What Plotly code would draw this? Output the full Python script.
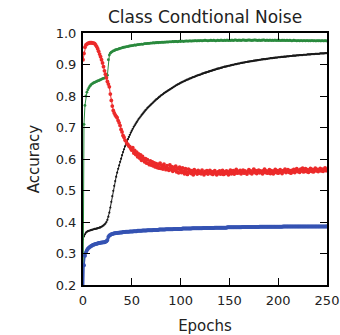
import plotly.graph_objects as go

epochs = list(range(0, 251))

# accuracy on the clean training subset
green_acc = [
    0.10, 0.71, 0.77, 0.80, 0.812, 0.82, 0.826, 0.831, 0.835, 0.838,
    0.840, 0.842, 0.843, 0.845, 0.846, 0.848, 0.849, 0.850, 0.852, 0.853,
    0.855, 0.856, 0.857, 0.859, 0.861, 0.866, 0.915, 0.930, 0.936, 0.939,
    0.941, 0.943, 0.944, 0.946, 0.947, 0.948, 0.949, 0.950, 0.951, 0.952,
    0.953, 0.954, 0.955, 0.955, 0.956, 0.957, 0.957, 0.958, 0.959, 0.959,
    0.960, 0.960, 0.961, 0.962, 0.961, 0.962, 0.963, 0.963, 0.964, 0.964,
    0.965, 0.964, 0.965, 0.966, 0.966, 0.966, 0.967, 0.967, 0.967, 0.968,
    0.968, 0.968, 0.969, 0.968, 0.969, 0.969, 0.970, 0.969, 0.970, 0.970,
    0.970, 0.971, 0.970, 0.971, 0.971, 0.971, 0.972, 0.971, 0.972, 0.972,
    0.972, 0.972, 0.973, 0.972, 0.973, 0.973, 0.973, 0.972, 0.973, 0.974,
    0.973, 0.974, 0.974, 0.973, 0.974, 0.974, 0.975, 0.974, 0.974, 0.975,
    0.975, 0.974, 0.975, 0.975, 0.975, 0.976, 0.975, 0.975, 0.976, 0.975,
    0.976, 0.976, 0.975, 0.976, 0.976, 0.977, 0.976, 0.976, 0.975, 0.976,
    0.976, 0.977, 0.976, 0.976, 0.977, 0.976, 0.975, 0.976, 0.977, 0.976,
    0.976, 0.977, 0.977, 0.976, 0.976, 0.977, 0.976, 0.977, 0.977, 0.976,
    0.977, 0.976, 0.977, 0.977, 0.976, 0.977, 0.978, 0.977, 0.976, 0.977,
    0.977, 0.977, 0.976, 0.977, 0.978, 0.977, 0.977, 0.976, 0.977, 0.977,
    0.978, 0.977, 0.977, 0.976, 0.977, 0.977, 0.978, 0.977, 0.977, 0.976,
    0.977, 0.977, 0.976, 0.977, 0.977, 0.978, 0.977, 0.976, 0.977, 0.977,
    0.976, 0.977, 0.977, 0.976, 0.977, 0.976, 0.977, 0.977, 0.976, 0.977,
    0.976, 0.977, 0.976, 0.976, 0.977, 0.976, 0.977, 0.976, 0.976, 0.977,
    0.976, 0.976, 0.977, 0.976, 0.975, 0.976, 0.977, 0.976, 0.976, 0.975,
    0.976, 0.976, 0.975, 0.976, 0.976, 0.975, 0.976, 0.976, 0.975, 0.976,
    0.976, 0.975, 0.976, 0.975, 0.976, 0.976, 0.975, 0.976, 0.975, 0.975,
    0.976, 0.975, 0.976, 0.975, 0.975, 0.976, 0.975, 0.975, 0.976, 0.975,
    0.975,
]

# accuracy on the noisy-labelled subset
red_acc = [
    0.915, 0.935, 0.955, 0.962, 0.965, 0.967, 0.968, 0.969, 0.969, 0.969,
    0.968, 0.968, 0.966, 0.962, 0.957, 0.950, 0.942, 0.933, 0.925, 0.915,
    0.905, 0.893, 0.880, 0.869, 0.858, 0.846, 0.838, 0.829, 0.806, 0.786,
    0.768, 0.754, 0.746, 0.740, 0.735, 0.731, 0.722, 0.715, 0.706, 0.694,
    0.686, 0.675, 0.669, 0.660, 0.657, 0.649, 0.646, 0.641, 0.639, 0.633,
    0.628, 0.636, 0.619, 0.627, 0.614, 0.622, 0.607, 0.616, 0.603, 0.613,
    0.596, 0.608, 0.601, 0.591, 0.601, 0.587, 0.598, 0.586, 0.582, 0.594,
    0.581, 0.591, 0.578, 0.588, 0.575, 0.585, 0.573, 0.583, 0.571, 0.587,
    0.570, 0.580, 0.568, 0.584, 0.574, 0.566, 0.579, 0.570, 0.564, 0.581,
    0.567, 0.576, 0.561, 0.573, 0.565, 0.577, 0.559, 0.570, 0.556, 0.574,
    0.565, 0.557, 0.572, 0.561, 0.553, 0.569, 0.559, 0.551, 0.568, 0.557,
    0.564, 0.554, 0.562, 0.550, 0.566, 0.556, 0.561, 0.552, 0.564, 0.555,
    0.560, 0.553, 0.565, 0.556, 0.550, 0.561, 0.555, 0.563, 0.552, 0.558,
    0.564, 0.554, 0.560, 0.551, 0.557, 0.563, 0.555, 0.550, 0.559, 0.554,
    0.562, 0.552, 0.557, 0.564, 0.551, 0.559, 0.554, 0.562, 0.555, 0.550,
    0.560, 0.565, 0.553, 0.558, 0.563, 0.552, 0.560, 0.567, 0.555, 0.561,
    0.556, 0.564, 0.553, 0.559, 0.565, 0.555, 0.562, 0.557, 0.552, 0.561,
    0.566, 0.556, 0.562, 0.553, 0.559, 0.568, 0.557, 0.563, 0.554, 0.561,
    0.565, 0.556, 0.562, 0.558, 0.553, 0.563, 0.568, 0.557, 0.562, 0.555,
    0.561, 0.566, 0.554, 0.563, 0.559, 0.553, 0.562, 0.567, 0.557, 0.563,
    0.555, 0.562, 0.566, 0.558, 0.554, 0.563, 0.560, 0.568, 0.557, 0.562,
    0.566, 0.558, 0.563, 0.555, 0.564, 0.559, 0.567, 0.557, 0.563, 0.569,
    0.560, 0.565, 0.558, 0.568, 0.562, 0.571, 0.559, 0.564, 0.569, 0.560,
    0.566, 0.558, 0.564, 0.570, 0.561, 0.567, 0.559, 0.565, 0.571, 0.562,
    0.567, 0.560, 0.566, 0.570, 0.562, 0.568, 0.561, 0.567, 0.572, 0.563,
    0.567,
]

# overall training accuracy
black_acc = [
    0.345, 0.355, 0.361, 0.366, 0.369, 0.371, 0.372, 0.373, 0.374, 0.375,
    0.376, 0.377, 0.378, 0.378, 0.379, 0.380, 0.381, 0.382, 0.383, 0.385,
    0.387, 0.389, 0.392, 0.395, 0.400, 0.407, 0.417, 0.430, 0.446, 0.464,
    0.482, 0.499, 0.515, 0.530, 0.544, 0.557, 0.569, 0.580, 0.591, 0.601,
    0.612, 0.622, 0.631, 0.640, 0.648, 0.656, 0.663, 0.670, 0.677, 0.684,
    0.690, 0.696, 0.702, 0.707, 0.712, 0.717, 0.722, 0.727, 0.731, 0.735,
    0.739, 0.743, 0.747, 0.751, 0.755, 0.758, 0.762, 0.765, 0.768, 0.771,
    0.774, 0.777, 0.780, 0.783, 0.786, 0.789, 0.791, 0.794, 0.797, 0.799,
    0.802, 0.804, 0.806, 0.809, 0.811, 0.813, 0.815, 0.817, 0.819, 0.821,
    0.823, 0.825, 0.827, 0.829, 0.831, 0.833, 0.835, 0.837, 0.838, 0.840,
    0.842, 0.843, 0.845, 0.846, 0.848, 0.849, 0.851, 0.852, 0.853, 0.855,
    0.856, 0.857, 0.859, 0.860, 0.861, 0.862, 0.864, 0.865, 0.866, 0.867,
    0.868, 0.869, 0.871, 0.872, 0.873, 0.874, 0.875, 0.876, 0.877, 0.878,
    0.879, 0.880, 0.881, 0.882, 0.883, 0.884, 0.885, 0.886, 0.887, 0.888,
    0.888, 0.889, 0.890, 0.891, 0.892, 0.893, 0.893, 0.894, 0.895, 0.896,
    0.896, 0.897, 0.898, 0.899, 0.899, 0.900, 0.901, 0.901, 0.902, 0.903,
    0.903, 0.904, 0.905, 0.905, 0.906, 0.906, 0.907, 0.908, 0.908, 0.909,
    0.909, 0.910, 0.910, 0.911, 0.911, 0.912, 0.912, 0.913, 0.913, 0.914,
    0.914, 0.915, 0.915, 0.916, 0.916, 0.917, 0.917, 0.917, 0.918, 0.918,
    0.919, 0.919, 0.920, 0.920, 0.920, 0.921, 0.921, 0.922, 0.922, 0.922,
    0.923, 0.923, 0.923, 0.924, 0.924, 0.924, 0.925, 0.925, 0.925, 0.926,
    0.926, 0.926, 0.927, 0.927, 0.927, 0.928, 0.928, 0.928, 0.928, 0.929,
    0.929, 0.929, 0.930, 0.930, 0.930, 0.930, 0.931, 0.931, 0.931, 0.931,
    0.932, 0.932, 0.932, 0.932, 0.933, 0.933, 0.933, 0.933, 0.934, 0.934,
    0.934, 0.934, 0.934, 0.935, 0.935, 0.935, 0.935, 0.935, 0.936, 0.936,
    0.936,
]

# test accuracy
blue_acc = [
    0.10, 0.263, 0.293, 0.303, 0.310, 0.315, 0.318, 0.321, 0.323, 0.325,
    0.327, 0.328, 0.329, 0.330, 0.331, 0.332, 0.333, 0.333, 0.334, 0.335,
    0.335, 0.336, 0.336, 0.337, 0.339, 0.343, 0.352, 0.357, 0.359, 0.361,
    0.362, 0.363, 0.364, 0.364, 0.365, 0.365, 0.366, 0.366, 0.367, 0.367,
    0.367, 0.368, 0.368, 0.368, 0.369, 0.369, 0.369, 0.369, 0.370, 0.370,
    0.370, 0.370, 0.371, 0.371, 0.371, 0.371, 0.372, 0.372, 0.372, 0.372,
    0.372, 0.373, 0.373, 0.373, 0.373, 0.373, 0.374, 0.374, 0.374, 0.374,
    0.374, 0.374, 0.375, 0.375, 0.375, 0.375, 0.375, 0.375, 0.376, 0.376,
    0.376, 0.376, 0.376, 0.376, 0.376, 0.377, 0.377, 0.377, 0.377, 0.377,
    0.377, 0.377, 0.377, 0.378, 0.378, 0.378, 0.378, 0.378, 0.378, 0.378,
    0.378, 0.378, 0.379, 0.379, 0.379, 0.379, 0.379, 0.379, 0.379, 0.379,
    0.379, 0.379, 0.380, 0.380, 0.380, 0.380, 0.380, 0.380, 0.380, 0.380,
    0.380, 0.380, 0.380, 0.381, 0.381, 0.381, 0.381, 0.381, 0.381, 0.381,
    0.381, 0.381, 0.381, 0.381, 0.381, 0.382, 0.382, 0.382, 0.382, 0.382,
    0.382, 0.382, 0.382, 0.382, 0.382, 0.382, 0.382, 0.382, 0.383, 0.383,
    0.383, 0.383, 0.383, 0.383, 0.383, 0.383, 0.383, 0.383, 0.383, 0.383,
    0.383, 0.383, 0.383, 0.384, 0.384, 0.384, 0.384, 0.384, 0.384, 0.384,
    0.384, 0.384, 0.384, 0.384, 0.384, 0.384, 0.384, 0.384, 0.384, 0.384,
    0.384, 0.385, 0.385, 0.385, 0.385, 0.385, 0.385, 0.385, 0.385, 0.385,
    0.385, 0.385, 0.385, 0.385, 0.385, 0.385, 0.385, 0.385, 0.385, 0.385,
    0.385, 0.385, 0.385, 0.385, 0.385, 0.386, 0.386, 0.386, 0.386, 0.386,
    0.386, 0.386, 0.386, 0.386, 0.386, 0.386, 0.386, 0.386, 0.386, 0.386,
    0.386, 0.386, 0.386, 0.386, 0.386, 0.386, 0.386, 0.386, 0.386, 0.386,
    0.386, 0.386, 0.386, 0.386, 0.386, 0.386, 0.386, 0.386, 0.386, 0.386,
    0.386, 0.386, 0.386, 0.386, 0.386, 0.386, 0.386, 0.386, 0.386, 0.386,
    0.386,
]

y_ticks = [0.2, 0.3, 0.4, 0.5, 0.6, 0.7, 0.8, 0.9, 1.0]
x_ticks = [0, 50, 100, 150, 200, 250]

FONT = "DejaVu Sans"

fig = go.Figure()


def add_series(values, color, msize, lwidth):
    fig.add_trace(go.Scatter(
        x=epochs, y=values, mode="lines+markers",
        line=dict(color=color, width=lwidth),
        marker=dict(color=color, size=msize, line=dict(width=0)),
        showlegend=False, cliponaxis=True,
    ))


add_series(black_acc, "#1a1a1a", 2.2, 1.0)
add_series(green_acc, "#2a8a3e", 2.8, 1.0)
add_series(blue_acc, "#3553b3", 4.0, 1.6)
add_series(red_acc, "#ec2a2a", 3.8, 1.0)

axis_common = dict(
    showline=True, linecolor="black", linewidth=2, mirror="ticks",
    ticks="inside", ticklen=7, tickwidth=1, tickcolor="black",
    showgrid=False, zeroline=False, automargin=False,
    tickfont=dict(family=FONT, size=13, color="#222"),
)

fig.update_xaxes(
    range=[0, 250], tickvals=x_ticks, ticktext=[str(v) for v in x_ticks],
    ticklabelstandoff=2,
    title=dict(text="Epochs", font=dict(family=FONT, size=15, color="#222"),
               standoff=14),
    **axis_common,
)
fig.update_yaxes(
    range=[0.2, 1.0], tickvals=y_ticks, ticktext=[f"{v:.1f}" for v in y_ticks],
    ticklabelstandoff=2,
    title=dict(text="Accuracy", font=dict(family=FONT, size=15, color="#222"),
               standoff=12),
    **axis_common,
)

fig.update_layout(
    width=340, height=335,
    margin=dict(l=83, r=13, t=33, b=50),
    paper_bgcolor="white", plot_bgcolor="white",
    title=dict(text="Class Condtional Noise", x=205 / 340, xanchor="center",
               y=1 - 17 / 335, yanchor="middle", yref="container",
               font=dict(family=FONT, size=17, color="#222")),
)

fig.write_html("out.html")
